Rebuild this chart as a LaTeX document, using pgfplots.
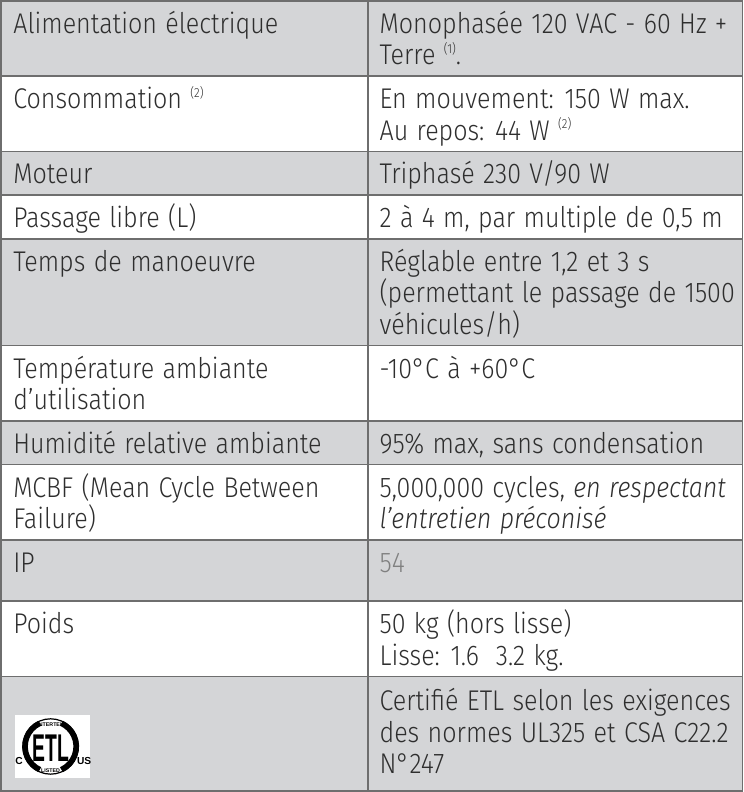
\documentclass[border=0pt]{standalone}
\usepackage{pgfplots}
\pgfplotsset{compat=1.18}
\usepackage{pgfplotstable}
\usepackage{fontspec}
\IfFontExistsTF{Fira Sans Light}{\setmainfont{Fira Sans Light}[FakeStretch=0.88, WordSpace=1.2, ItalicFont={Fira Sans Light Italic}]}{\setmainfont{Fira Sans}[FakeStretch=0.88, WordSpace=1.2]}
\newfontfamily\logofont{Liberation Sans}
\definecolor{rowgray}{HTML}{D4D5D7}
\definecolor{linec}{HTML}{6E6E6E}
\definecolor{txt}{HTML}{2E2E2E}
\definecolor{light}{HTML}{808080}
\newcommand{\sups}[1]{\raisebox{5.5pt}{\fontsize{6.5pt}{7pt}\selectfont(#1)}}
\tikzset{cell/.style={anchor=base west, font=\fontsize{14pt}{15.5pt}\selectfont, text=txt, inner sep=0pt}}

% table rules (nan = break)
\pgfplotstableread{
x y
10 10
739 10
nan nan
10 84
739 84
nan nan
10 158
739 158
nan nan
10 201
739 201
nan nan
10 244
739 244
nan nan
10 349
739 349
nan nan
10 423
739 423
nan nan
10 466
739 466
nan nan
10 540
739 540
nan nan
10 600
739 600
nan nan
10 674
739 674
nan nan
10 787
739 787
nan nan
10 10
10 787
nan nan
371 10
371 787
nan nan
739 10
739 787
}\rules

\begin{document}
\begin{tikzpicture}
\begin{axis}[
  scale only axis, width=374pt, height=396pt,
  xmin=0, xmax=748, ymin=0, ymax=792, y dir=reverse,
  hide axis, clip=false,
]
% backgrounds
\addplot[fill=rowgray, draw=none] coordinates {(10,10)(739,10)(739,84)(10,84)};
\addplot[fill=rowgray, draw=none] coordinates {(10,158)(739,158)(739,201)(10,201)};
\addplot[fill=rowgray, draw=none] coordinates {(10,244)(739,244)(739,349)(10,349)};
\addplot[fill=rowgray, draw=none] coordinates {(10,423)(739,423)(739,466)(10,466)};
\addplot[fill=rowgray, draw=none] coordinates {(10,540)(739,540)(739,600)(10,600)};
\addplot[fill=rowgray, draw=none] coordinates {(10,674)(739,674)(739,787)(10,787)};
% rules
\addplot[draw=linec, line width=0.75pt, line cap=rect, unbounded coords=jump, mark=none] table[x=x, y=y] {\rules};

% left column
\node[cell] at (axis cs:22,42) {Alimentation électrique};
\node[cell] at (axis cs:22,116) {Consommation \sups{2}};
\node[cell] at (axis cs:22,190) {Moteur};
\node[cell] at (axis cs:22,233) {Passage libre (L)};
\node[cell] at (axis cs:22,276) {Temps de manoeuvre};
\node[cell] at (axis cs:22,381) {Température ambiante};
\node[cell] at (axis cs:22,412) {d’utilisation};
\node[cell] at (axis cs:22,455) {Humidité relative ambiante};
\node[cell] at (axis cs:22,498) {MCBF (Mean Cycle Between};
\node[cell] at (axis cs:22,529) {Failure)};
\node[cell] at (axis cs:22,572) {IP};
\node[cell] at (axis cs:22,632) {Poids};

% right column
\node[cell] at (axis cs:382,42) {Monophasée 120 VAC - 60 Hz +};
\node[cell] at (axis cs:382,73) {Terre \sups{1}.};
\node[cell] at (axis cs:382,116) {En mouvement: 150 W max.};
\node[cell] at (axis cs:382,147) {Au repos: 44 W \sups{2}};
\node[cell] at (axis cs:382,190) {Triphasé 230 V/90 W};
\node[cell] at (axis cs:382,233) {2 à 4 m, par multiple de 0,5 m};
\node[cell] at (axis cs:382,276) {Réglable entre 1,2 et 3 s};
\node[cell] at (axis cs:382,307) {(permettant le passage de 1500};
\node[cell] at (axis cs:382,338) {véhicules/h)};
\node[cell] at (axis cs:382,381) {-10°C à +60°C};
\node[cell] at (axis cs:382,455) {95\% max, sans condensation};
\node[cell] at (axis cs:382,498) {5,000,000 cycles, \textit{en respectant}};
\node[cell] at (axis cs:382,529) {\textit{l’entretien préconisé}};
\node[cell, text=light] at (axis cs:382,572) {54};
\node[cell] at (axis cs:382,632) {50 kg (hors lisse)};
\node[cell] at (axis cs:382,663) {Lisse: 1.6\ \ 3.2 kg.};
\node[cell] at (axis cs:382,708) {Certifié ETL selon les exigences};
\node[cell] at (axis cs:382,739) {des normes UL325 et CSA C22.2};
\node[cell] at (axis cs:382,770) {N°247};

% ETL logo
\fill[white] (axis cs:24,712) rectangle (axis cs:98,774);
\draw[black, line width=0.6pt] (axis cs:59,743) circle (13.6pt);
\draw[black, line width=2.8pt] (axis cs:59,743) ++(115:12.6pt) arc (115:245:12.6pt);
\draw[black, line width=2.8pt] (axis cs:59,743) ++(-65:12.6pt) arc (-65:65:12.6pt);
\node[font=\logofont\bfseries\fontsize{19pt}{19pt}\selectfont, text=black, xscale=0.5, anchor=center] at (axis cs:59,745) {ETL};
\node[font=\logofont\bfseries\fontsize{2.6pt}{2.6pt}\selectfont, text=black] at (axis cs:59,722) {INTERTEK};
\node[font=\logofont\bfseries\fontsize{2.6pt}{2.6pt}\selectfont, text=black] at (axis cs:59,767) {LISTED};
\node[font=\logofont\bfseries\fontsize{5pt}{5pt}\selectfont, text=black] at (axis cs:28,757) {C};
\node[font=\logofont\bfseries\fontsize{5pt}{5pt}\selectfont, text=black] at (axis cs:92,757) {US};
\end{axis}
\end{tikzpicture}
\end{document}
